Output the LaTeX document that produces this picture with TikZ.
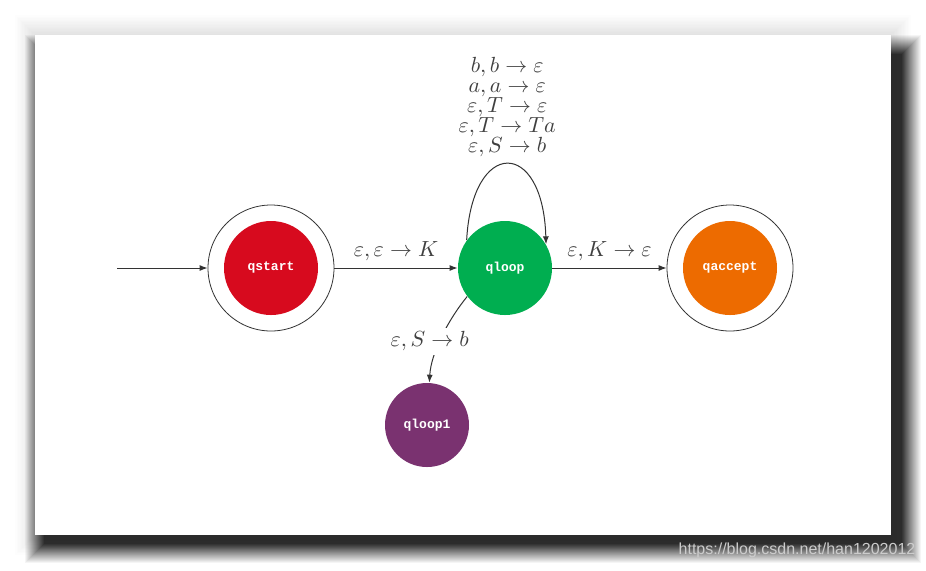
\documentclass[tikz,border=0pt]{standalone}
\usepackage{fontspec}
\usepackage{amsmath}
\usetikzlibrary{arrows.meta}
\newfontfamily\statefont{Liberation Mono}
\newfontfamily\markfont{Liberation Sans}
\definecolor{startred}{RGB}{215,10,30}
\definecolor{loopgreen}{RGB}{0,174,80}
\definecolor{acceptorange}{RGB}{237,107,0}
\definecolor{looppurple}{RGB}{122,50,112}

\begin{document}
\begin{tikzpicture}[x=0.5pt,y=-0.5pt,
	statenode/.style={circle,minimum size=47pt,inner sep=0pt,text=white,
		font=\statefont\bfseries\fontsize{6.5}{7}\selectfont},
	ring/.style={circle,draw=black!80,line width=0.4pt,minimum size=63pt,inner sep=0pt},
	edge/.style={draw=black!80,line width=0.5pt,-{Latex[length=4pt,width=3pt]}},
	lbl/.style={text=black!75,font=\fontsize{11}{10}\selectfont}]
\useasboundingbox (0,0) rectangle (926,570);
\fill[white] (0,0) rectangle (926,570);
% card with its shadow
\foreach \i in {1,...,14}
	\fill[black,opacity=.007] (35-1.4*\i,35-1.4*\i) rectangle (891+1.4*\i,535+1.4*\i);
\foreach \i in {0,...,19} {
	\pgfmathsetmacro\a{0.04/(1-0.04*\i)}
	\fill[black,opacity=\a] (25+\i,35+\i) rectangle (921-\i,563-\i);
}
\fill[white] (35,35) rectangle (891,535);
\node[text=white!80!black,font=\markfont\fontsize{8}{9}\selectfont] (mark) at (797,550) {https://blog.csdn.net/han1202012};

% states
\node[statenode,fill=startred] (qstart) at (271,268) {qstart};
\node[ring] (qstartout) at (qstart) {};
\node[statenode,fill=loopgreen] (qloop) at (505,268) {qloop};
\node[statenode,fill=acceptorange] (qaccept) at (730,268) {qaccept};
\node[ring] (qacceptout) at (qaccept) {};
\node[statenode,fill=looppurple,minimum size=42pt] (qloop1) at (427,425) {qloop1};

% transitions
\coordinate (init) at (117,268);
\draw[edge] (init) -- (qstartout);
\draw[edge] (qstartout) -- node[lbl,above] {$\varepsilon,\varepsilon \rightarrow K$} (qloop);
\draw[edge] (qloop) -- node[lbl,above] {$\varepsilon,K \rightarrow \varepsilon$} (qacceptout);
\draw[edge] (qloop.144) .. controls (472,138) and (543,138) .. (qloop.30)
	node[lbl,pos=.5,above,align=center] {$b,b \rightarrow \varepsilon$\\
		$a,a \rightarrow \varepsilon$\\
		$\varepsilon,T \rightarrow \varepsilon$\\
		$\varepsilon,T \rightarrow Ta$\\
		$\varepsilon,S \rightarrow b$};
\draw[edge] (qloop.217) .. controls (448,320) and (431,353) .. (qloop1)
	node[lbl,pos=.5,fill=white,inner sep=2pt,xshift=-6pt,yshift=-2pt] {$\varepsilon,S \rightarrow b$};
\end{tikzpicture}
\end{document}
